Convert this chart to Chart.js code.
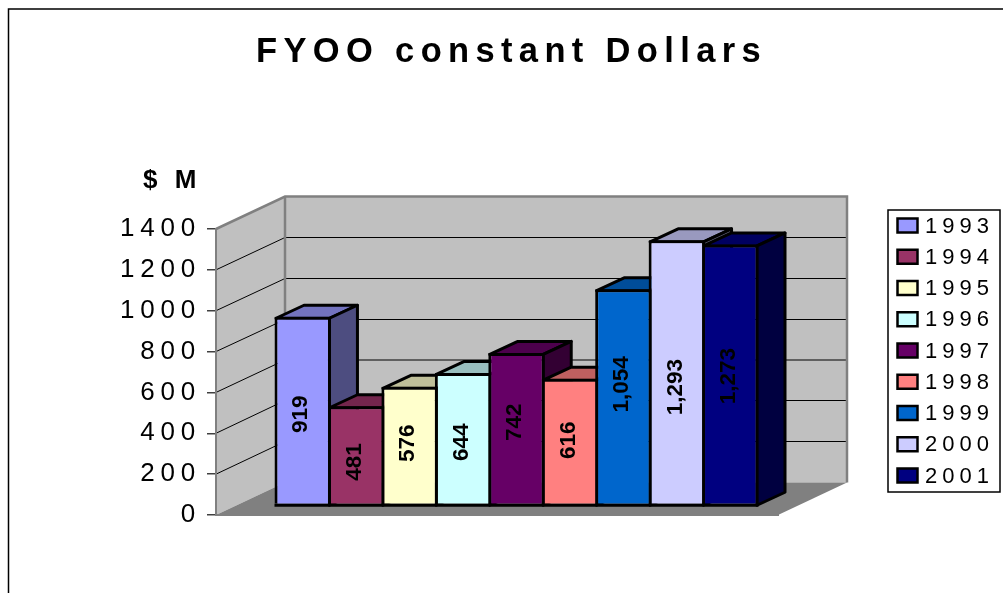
<!DOCTYPE html>
<html>
<head>
<meta charset="utf-8">
<style>html,body{margin:0;padding:0;background:#fff}canvas{display:block}</style>
<script src="https://cdn.jsdelivr.net/npm/chart.js@4"></script>
</head>
<body>
<canvas id="c" width="1003" height="593"></canvas>
<script>
const chartTitle = "FYOO constant Dollars";
const axisLabel = "$ M";
const categories = ["FY00"];
const years = ["1993","1994","1995","1996","1997","1998","1999","2000","2001"];
const values = [919,481,576,644,742,616,1054,1293,1273];
const colors = ["#9999FF","#993366","#FFFFCC","#CCFFFF","#660066","#FF8080","#0066CC","#CCCCFF","#000080"];

const FONT = '"Liberation Sans", Arial, sans-serif';
const WALL = {dx:69, dy:32.5};
const BAR = {dx:28, dy:13, sx:19.5, sy:-10.5, bw:3};
const labelShift = [4,7,-2,4,-6,-1,-12,15,2];

function shade(hex,f){
  const n=parseInt(hex.slice(1),16);
  return `rgb(${Math.round((n>>16&255)*f)},${Math.round((n>>8&255)*f)},${Math.round((n&255)*f)})`;
}
const threeD = {
  id:'threeD',
  beforeDraw(chart){
    const {ctx,chartArea:a,scales:{y}}=chart;
    ctx.save();
    // outer frame
    ctx.strokeStyle='#000';ctx.lineWidth=1.5;
    ctx.beginPath();ctx.moveTo(8.5,593);ctx.lineTo(8.5,9);ctx.lineTo(1003,9);ctx.stroke();
    // walls
    const L=a.left,R=a.right,B=a.bottom,T=a.top;
    const dx=WALL.dx,dy=WALL.dy;
    ctx.fillStyle='#C0C0C0';
    ctx.beginPath();ctx.rect(L+dx,T-dy,R-L,B-T);ctx.fill();
    ctx.beginPath();ctx.moveTo(L,T);ctx.lineTo(L+dx,T-dy);ctx.lineTo(L+dx,B-dy);ctx.lineTo(L,B);ctx.closePath();ctx.fill();
    // gridlines
    ctx.lineWidth=1;
    y.ticks.forEach(t=>{
      if(t.value===0||t.value===y.max)return;
      const p=y.getPixelForValue(t.value);
      const q=p-dy;
      const back=t.value===600?Math.round(q):Math.floor(q+0.1)+0.5;
      ctx.strokeStyle='#000';
      ctx.beginPath();ctx.moveTo(L,p);ctx.lineTo(L+dx,back);ctx.lineTo(R+dx,back);ctx.stroke();
    });
    // floor
    ctx.fillStyle='#808080';
    ctx.beginPath();ctx.moveTo(L,B);ctx.lineTo(R,B);ctx.lineTo(R+dx,B-dy);ctx.lineTo(L+dx,B-dy);ctx.closePath();ctx.fill();
    // wall edges
    ctx.strokeStyle='#808080';ctx.lineWidth=2.5;ctx.lineJoin='miter';
    ctx.beginPath();ctx.moveTo(L,T);ctx.lineTo(L+dx,T-dy);ctx.lineTo(R+dx,T-dy);ctx.lineTo(R+dx,B-dy);ctx.stroke();
    ctx.beginPath();ctx.moveTo(L+dx,T-dy);ctx.lineTo(L+dx,B-dy);ctx.stroke();
    ctx.restore();
    ctx.letterSpacing='5.8px';
  },
  beforeDatasetsDraw(chart){
    const ctx=chart.ctx;
    ctx.letterSpacing='0px';
    ctx.save();
    ctx.translate(BAR.sx,BAR.sy);
    ctx.lineWidth=BAR.bw;ctx.strokeStyle='#000';ctx.lineJoin='round';
    const h=BAR.bw/2;
    years.forEach((yr,i)=>{
      const el=chart.getDatasetMeta(i).data[0];
      const l=el.x-el.width/2+h,r=el.x+el.width/2-h,t=el.y+h,b=el.base+h;
      ctx.fillStyle=shade(colors[i],.75);
      ctx.beginPath();ctx.moveTo(l,t);ctx.lineTo(l+BAR.dx,t-BAR.dy);ctx.lineTo(r+BAR.dx,t-BAR.dy);ctx.lineTo(r,t);ctx.closePath();ctx.fill();ctx.stroke();
      ctx.fillStyle=shade(colors[i],.5);
      ctx.beginPath();ctx.moveTo(r,t);ctx.lineTo(r+BAR.dx,t-BAR.dy);ctx.lineTo(r+BAR.dx,b-BAR.dy);ctx.lineTo(r,b);ctx.closePath();ctx.fill();ctx.stroke();
    });
    ctx.restore();
    ctx.save();
    ctx.translate(BAR.sx,BAR.sy);
  },
  afterDatasetsDraw(chart){
    const ctx=chart.ctx;
    const h=BAR.bw/2;
    // bottom edge of the front faces
    ctx.lineWidth=BAR.bw;ctx.strokeStyle='#000';
    const first=chart.getDatasetMeta(0).data[0],last=chart.getDatasetMeta(years.length-1).data[0];
    ctx.beginPath();ctx.moveTo(first.x-first.width/2,first.base+h);ctx.lineTo(last.x+last.width/2,last.base+h);ctx.stroke();
    // value labels
    ctx.fillStyle='#000';ctx.font='bold 22.5px '+FONT;ctx.textAlign='center';ctx.textBaseline='middle';
    years.forEach((yr,i)=>{
      const el=chart.getDatasetMeta(i).data[0];
      ctx.save();
      ctx.translate(el.x-1.5,(el.y+el.base)/2+labelShift[i]);
      ctx.rotate(-Math.PI/2);
      ctx.fillText(values[i].toLocaleString('en-US'),0,0);
      ctx.restore();
    });
    ctx.restore();
  },
  afterDraw(chart){
    const ctx=chart.ctx;
    ctx.save();
    ctx.fillStyle='#000';ctx.textBaseline='alphabetic';ctx.textAlign='left';
    ctx.fontKerning='none';
    ctx.letterSpacing='6.35px';ctx.font='bold 34.5px '+FONT;
    ctx.fillText(chartTitle,256,62);
    ctx.letterSpacing='5px';ctx.font='bold 26px '+FONT;
    ctx.fillText(axisLabel,143,188);
    // legend
    ctx.letterSpacing='0px';
    ctx.strokeStyle='#000';ctx.lineWidth=1.5;
    ctx.fillStyle='#fff';ctx.fillRect(888,210,112,282);ctx.strokeRect(888,210,112,282);
    ctx.font='22px '+FONT;ctx.textBaseline='middle';
    years.forEach((yr,i)=>{
      const yc=225.5+i*31.25;
      ctx.fillStyle=colors[i];ctx.lineWidth=2.5;
      ctx.fillRect(897.5,yc-7,20,14);ctx.strokeRect(897.5,yc-7,20,14);
      ctx.fillStyle='#000';ctx.letterSpacing='5px';
      ctx.fillText(yr,925,yc+1);
      ctx.letterSpacing='0px';
    });
    ctx.restore();
  }
};

const catPct = 481/562;
new Chart(document.getElementById('c'),{
  type:'bar',
  data:{
    labels:categories,
    datasets:years.map((yr,i)=>({
      label:yr,
      data:[values[i]],
      backgroundColor:colors[i],
      borderColor:'#000',
      borderWidth:BAR.bw,
      borderSkipped:'bottom',
      categoryPercentage:catPct,
      barPercentage:1+BAR.bw/(562*catPct/years.length)
    }))
  },
  options:{
    responsive:false,
    animation:false,
    devicePixelRatio:1,
    layout:{padding:{left:0,top:229,right:225,bottom:78}},
    plugins:{legend:{display:false},title:{display:false},tooltip:{enabled:false}},
    scales:{
      x:{
        display:true,
        grid:{display:false,drawTicks:false},
        border:{display:true,color:'#808080',width:2},
        ticks:{display:false}
      },
      y:{
        min:0,max:1400,
        afterFit(s){s.width=216;},
        ticks:{stepSize:200,padding:6,color:'#000',font:{family:FONT,size:26},callback:v=>String(v)},
        grid:{drawOnChartArea:false,drawTicks:true,tickLength:9,color:'#404040',lineWidth:1.5},
        border:{display:true,color:'#808080',width:2}
      }
    }
  },
  plugins:[threeD]
});
</script>
</body>
</html>
